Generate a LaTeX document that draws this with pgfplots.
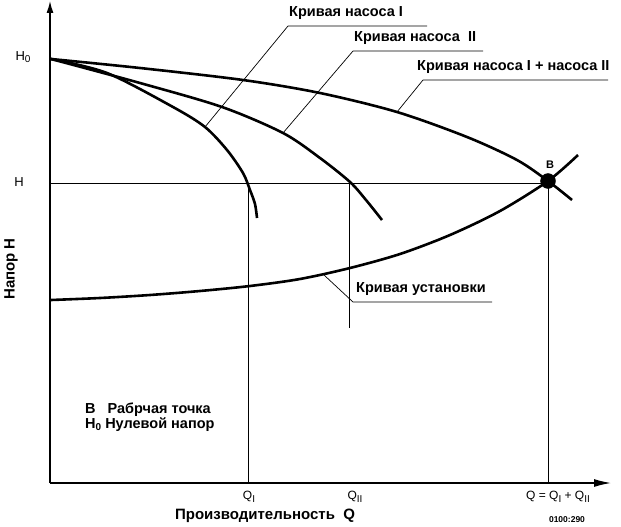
\documentclass[border=0pt]{standalone}
\usepackage{fontspec}
\setmainfont{Liberation Sans}
\usepackage{pgfplots}
\pgfplotsset{compat=1.18}
\usetikzlibrary{arrows.meta}
\newcommand{\sub}[1]{\raisebox{-2.5pt}{\fontsize{10}{12}\selectfont #1}}
\begin{document}
\begin{tikzpicture}
\begin{axis}[
  scale only axis, width=621pt, height=527pt,
  xmin=0, xmax=621, ymin=0, ymax=527,
  hide axis, clip=false,
  y dir=reverse,
]
\path (axis cs:0,0) rectangle (axis cs:621,527);
% axes
\draw[line width=1.3pt, -{Latex[length=17pt,width=8pt]}] (axis cs:50,483) -- (axis cs:611,483);
\draw[line width=1.3pt, -{Latex[length=12pt,width=7pt]}] (axis cs:50,483) -- (axis cs:50,1);
% reference lines
\draw[line width=0.7pt] (axis cs:50,183) -- (axis cs:548,183);
\draw[line width=0.7pt] (axis cs:248,183) -- (axis cs:248,483);
\draw[line width=0.7pt] (axis cs:349,183) -- (axis cs:349,328);
\draw[line width=0.7pt] (axis cs:548,183) -- (axis cs:548,483);
% curves
\addplot[black, line width=2.6pt, smooth] coordinates {(51,59) (107,73) (173,107) (205,127) (227,150) (243,173) (250,190) (255,204) (257,218)};
\addplot[black, line width=2.6pt, smooth] coordinates {(51,59) (140,83) (222,107) (283,133) (320,158) (350,182) (366,200) (382,220)};
\addplot[black, line width=2.6pt, smooth] coordinates {(51,59) (140,68) (243,80) (320,93) (397,112) (467,137) (517,160) (548,181) (572,200)};
\addplot[black, line width=2.6pt, smooth] coordinates {(51,300) (100,298) (150,295) (200,291) (250,286) (300,279) (350,268) (400,254) (450,235) (500,211) (548,181) (578,155)};
\addplot[only marks, mark=*, mark size=7.5pt, black] coordinates {(548,181)};
% leaders
\draw[line width=0.7pt] (axis cs:205,127) -- (axis cs:288,26) -- (axis cs:427,26);
\draw[line width=0.7pt] (axis cs:283,133) -- (axis cs:353,51) -- (axis cs:483,51);
\draw[line width=0.7pt] (axis cs:397,112) -- (axis cs:423,80) -- (axis cs:608,80);
\draw[line width=0.7pt] (axis cs:324,275) -- (axis cs:353,302) -- (axis cs:492,302);
% labels
\node[anchor=south west, font=\bfseries\fontsize{14.5}{16}\selectfont, inner sep=1pt] at (axis cs:288,21) {Кривая насоса I};
\node[anchor=south west, font=\bfseries\fontsize{14.5}{16}\selectfont, inner sep=1pt] at (axis cs:353,46) {Кривая насоса\ \ II};
\node[overlay, anchor=south west, font=\bfseries\fontsize{14.5}{16}\selectfont, inner sep=1pt] at (axis cs:416,75) {Кривая насоса I + насоса II};
\node[anchor=south west, font=\bfseries\fontsize{14.5}{16}\selectfont, inner sep=1pt] at (axis cs:355,297) {Кривая установки};
\node[font=\bfseries\fontsize{11}{12}\selectfont] at (axis cs:550,165) {B};
\node[font=\fontsize{13}{15}\selectfont] at (axis cs:23,57) {H\sub{0}};
\node[font=\fontsize{13}{15}\selectfont] at (axis cs:19,182) {H};
\node[rotate=90, font=\bfseries\fontsize{15}{17}\selectfont] at (axis cs:11,269) {Напор H};
\node[font=\fontsize{12}{13}\selectfont] at (axis cs:249,497) {Q\sub{I}};
\node[font=\fontsize{12}{13}\selectfont] at (axis cs:355,497) {Q\sub{II}};
\node[font=\fontsize{12}{13}\selectfont] at (axis cs:558,497) {Q = Q\sub{I} + Q\sub{II}};
\node[font=\bfseries\fontsize{15}{17}\selectfont] at (axis cs:265,516) {Производительность\ \ Q};
\node[font=\bfseries\fontsize{8.5}{10}\selectfont] at (axis cs:567,520) {0100:290};
\node[anchor=base west, font=\bfseries\fontsize{14.5}{16}\selectfont, inner sep=0pt] at (axis cs:85,413) {B\hspace{12pt}Рабрчая точка};
\node[anchor=base west, font=\bfseries\fontsize{14.5}{16}\selectfont, inner sep=0pt] at (axis cs:85,428) {H\sub{0} Нулевой напор};
\end{axis}
\end{tikzpicture}
\end{document}
